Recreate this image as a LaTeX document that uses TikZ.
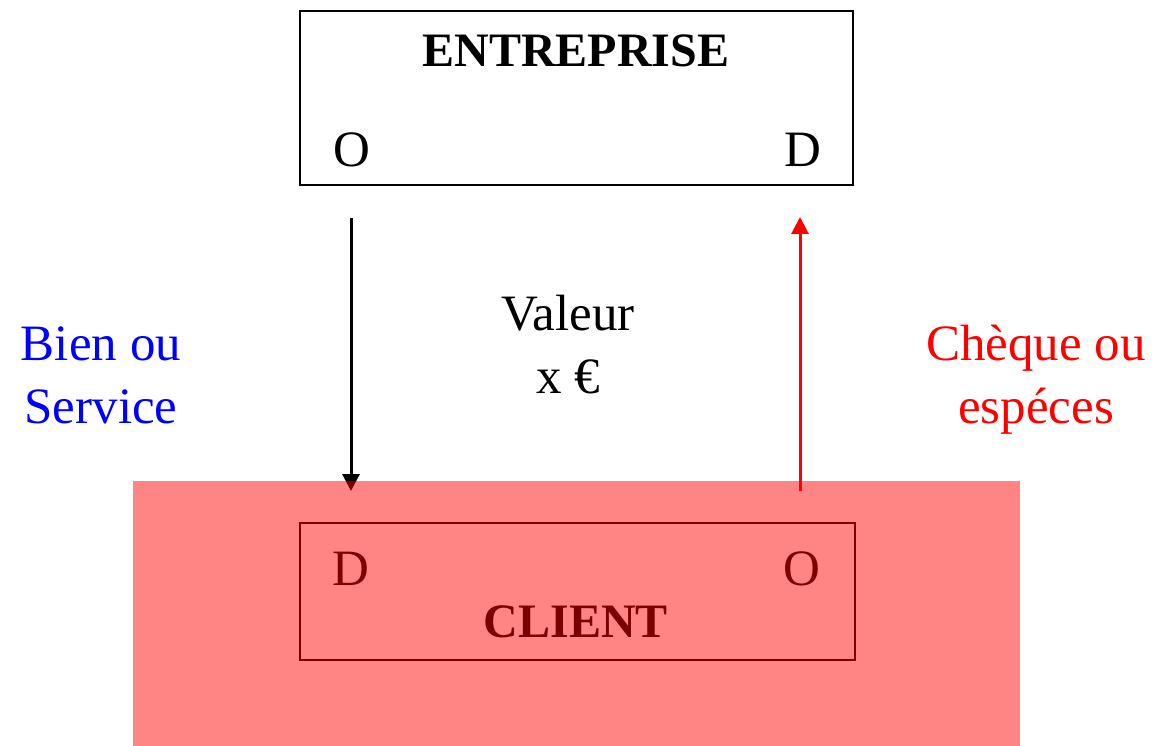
\documentclass[tikz,border=0pt]{standalone}
\usepackage{fontspec}
\setmainfont{Liberation Serif}
\usetikzlibrary{arrows.meta}
\begin{document}
\begin{tikzpicture}[x=1pt,y=-1pt,
  lbl/.style={anchor=base,inner sep=0pt,font=\fontsize{51}{63}\selectfont},
  ttl/.style={anchor=base,inner sep=0pt,font=\fontsize{48}{56}\selectfont\bfseries},
  boxx/.style={draw=black,line width=2.2pt},
  flow/.style={line width=3pt,-{Triangle[length=17pt,width=17pt]}}]
\useasboundingbox (0,0) rectangle (1157,746);
% enterprise box
\draw[boxx] (300,11) rectangle (853,185);
\node[ttl] (ent) at (576,67) {ENTREPRISE};
\node[lbl] (eo) at (352,167) {O};
\node[lbl] (ed) at (803,167) {D};
% client box
\draw[boxx] (300,523) rectangle (855,660);
\node[ttl] (cli) at (576,637) {CLIENT};
\node[lbl] (cd) at (351,585) {D};
\node[lbl] (co) at (802,585) {O};
% flows
\coordinate (a1) at (351,218);
\coordinate (a2) at (351,491);
\coordinate (b1) at (800,491);
\coordinate (b2) at (800,217);
\draw[flow,black] (a1) -- (a2);
\draw[flow,red] (b1) -- (b2);
% labels (base = last line's baseline)
\node[lbl,align=center] (val) at (568,393) {Valeur\\x €};
\node[lbl,align=center,text=blue] (bien) at (101,423) {Bien ou\\Service};
\node[lbl,align=center,text=red] (cheq) at (1036,423) {Chèque ou\\espéces};
% pink overlay
\fill[red,fill opacity=0.48] (133,481) rectangle (1020,746);
\end{tikzpicture}
\end{document}
